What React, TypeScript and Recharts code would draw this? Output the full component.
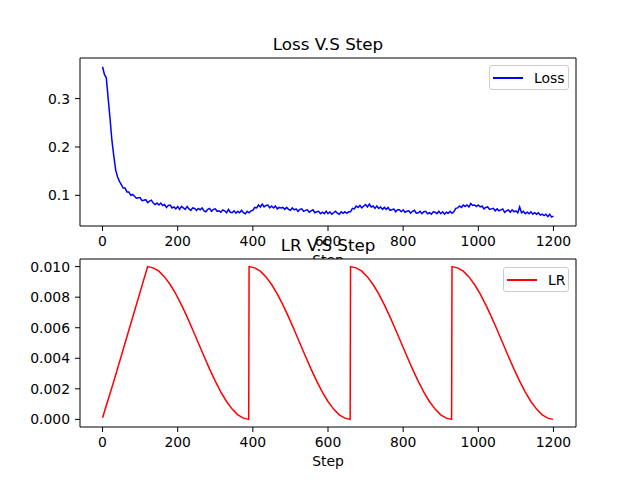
import React from 'react'
import { LineChart, Line, XAxis, YAxis, Legend, CartesianGrid, ReferenceLine } from 'recharts'

// loss logged every 5 steps
const LOSS_EVERY = 5
const lossValues = [
  0.366, 0.350, 0.343, 0.300, 0.258, 0.213, 0.181, 0.152, 0.138, 0.129,
  0.122, 0.115, 0.115, 0.107, 0.107, 0.100, 0.102, 0.098, 0.094, 0.095,
  0.095, 0.089, 0.090, 0.091, 0.085, 0.088, 0.090, 0.084, 0.081, 0.084,
  0.080, 0.084, 0.079, 0.081, 0.075, 0.079, 0.080, 0.074, 0.076, 0.072,
  0.077, 0.071, 0.077, 0.074, 0.071, 0.077, 0.072, 0.069, 0.074, 0.073,
  0.069, 0.073, 0.070, 0.074, 0.068, 0.066, 0.071, 0.073, 0.067, 0.071,
  0.072, 0.067, 0.068, 0.065, 0.070, 0.068, 0.064, 0.071, 0.065, 0.064,
  0.068, 0.063, 0.067, 0.064, 0.069, 0.064, 0.062, 0.067, 0.064, 0.068,
  0.069, 0.075, 0.074, 0.080, 0.076, 0.082, 0.076, 0.079, 0.080, 0.074,
  0.078, 0.074, 0.078, 0.072, 0.075, 0.074, 0.075, 0.071, 0.075, 0.071,
  0.069, 0.074, 0.070, 0.072, 0.067, 0.071, 0.072, 0.067, 0.069, 0.070,
  0.065, 0.068, 0.070, 0.064, 0.066, 0.067, 0.062, 0.065, 0.062, 0.067,
  0.062, 0.066, 0.061, 0.064, 0.067, 0.063, 0.061, 0.066, 0.063, 0.066,
  0.063, 0.066, 0.066, 0.073, 0.072, 0.078, 0.075, 0.079, 0.074, 0.078,
  0.081, 0.076, 0.082, 0.076, 0.078, 0.073, 0.078, 0.073, 0.076, 0.071,
  0.075, 0.071, 0.075, 0.069, 0.070, 0.072, 0.066, 0.070, 0.070, 0.066,
  0.070, 0.065, 0.067, 0.068, 0.063, 0.067, 0.069, 0.063, 0.064, 0.067,
  0.062, 0.066, 0.067, 0.062, 0.064, 0.061, 0.066, 0.065, 0.062, 0.067,
  0.062, 0.066, 0.061, 0.065, 0.063, 0.067, 0.063, 0.066, 0.073, 0.074,
  0.078, 0.075, 0.080, 0.077, 0.080, 0.076, 0.083, 0.079, 0.080, 0.077,
  0.080, 0.076, 0.078, 0.072, 0.075, 0.076, 0.071, 0.072, 0.073, 0.068,
  0.072, 0.068, 0.070, 0.072, 0.065, 0.068, 0.070, 0.065, 0.070, 0.066,
  0.068, 0.064, 0.076, 0.064, 0.067, 0.062, 0.065, 0.062, 0.066, 0.061,
  0.064, 0.061, 0.064, 0.059, 0.061, 0.058, 0.061, 0.056, 0.061, 0.055,
  0.057,
]

const lrSteps = [
  0, 30, 60, 90, 120,
  135, 150, 165, 180, 195, 210, 225, 240, 255, 270, 285, 300, 315, 330, 345, 360, 375, 389,
  390, 405, 420, 435, 450, 465, 480, 495, 510, 525, 540, 555, 570, 585, 600, 615, 630, 645, 659,
  660, 675, 690, 705, 720, 735, 750, 765, 780, 795, 810, 825, 840, 855, 870, 885, 900, 915, 929,
  930, 945, 960, 975, 990, 1005, 1020, 1035, 1050, 1065, 1080, 1095, 1110, 1125, 1140, 1155, 1170, 1185, 1199,
]
const lrValues = [
  0.0001, 0.0025, 0.005, 0.0075, 0.01,
  0.00992, 0.0097, 0.00933, 0.00883, 0.00821, 0.0075, 0.00671, 0.00587, 0.005, 0.00413, 0.00329, 0.0025, 0.00179, 0.00117, 0.00067, 0.0003, 0.00008, 0,
  0.01, 0.00992, 0.0097, 0.00933, 0.00883, 0.00821, 0.0075, 0.00671, 0.00587, 0.005, 0.00413, 0.00329, 0.0025, 0.00179, 0.00117, 0.00067, 0.0003, 0.00008, 0,
  0.01, 0.00992, 0.0097, 0.00933, 0.00883, 0.00821, 0.0075, 0.00671, 0.00587, 0.005, 0.00413, 0.00329, 0.0025, 0.00179, 0.00117, 0.00067, 0.0003, 0.00008, 0,
  0.01, 0.00992, 0.0097, 0.00933, 0.00883, 0.00821, 0.0075, 0.00671, 0.00587, 0.005, 0.00413, 0.00329, 0.0025, 0.00179, 0.00117, 0.00067, 0.0003, 0.00008, 0,
]

const stepTicks = [0, 200, 400, 600, 800, 1000, 1200]
const lossTicks = [0.1, 0.2, 0.3]
const lrTicks = [0, 0.002, 0.004, 0.006, 0.008, 0.01]

const X_DOMAIN: [number, number] = [-60, 1260]
const LOSS_DOMAIN: [number, number] = [0.0366, 0.384]
const LR_DOMAIN: [number, number] = [-0.0005, 0.0105]

const lossData = lossValues.map((v, i) => ({ step: i * LOSS_EVERY, loss: v }))
const lrData = lrSteps.map((s, i) => ({ step: s, lr: lrValues[i] }))

const FONT = 13.9
const tickStyle = { fill: '#000', fontSize: FONT }

function LegendBox({ label, color, width }: { label: string; color: string; width: number }) {
  return (
    <div style={{
      boxSizing: 'border-box', width, height: 25, border: '1px solid #cccccc', borderRadius: 3,
      background: 'rgba(255,255,255,0.8)', display: 'flex', alignItems: 'center',
      paddingLeft: 3, fontSize: FONT, color: '#000',
    }}>
      <span style={{ display: 'inline-block', width: 30, height: 2, background: color, marginRight: 11 }} />
      <span>{label}</span>
    </div>
  )
}

export default function App() {
  return (
    <div style={{ position: 'absolute', left: 0, top: 0, width: 640, height: 480, background: '#fff', fontFamily: 'DejaVu Sans' }}>
      <div style={{ position: 'absolute', left: 0, top: 0 }}>
        <LineChart width={640} height={480} data={lossData} margin={{ top: 58, right: 64, bottom: 201, left: 0 }}>
          <XAxis dataKey="step" type="number" domain={X_DOMAIN} ticks={stepTicks} height={53}
            stroke="#000" tickSize={5} tickMargin={5} tick={tickStyle}
            label={{ value: 'Step', position: 'insideBottom', offset: 14, fill: '#000', fontSize: FONT }} />
          <YAxis type="number" domain={LOSS_DOMAIN} ticks={lossTicks} width={80}
            stroke="#000" tickSize={5} tickMargin={5} tick={tickStyle} tickFormatter={(v: number) => v.toFixed(1)} />
          <Legend layout="horizontal" verticalAlign="middle" align="center"
            wrapperStyle={{ position: 'absolute', left: 489, top: 65, width: 80, height: 25 }}
            content={() => <LegendBox label="Loss" color="#0000ff" width={80} />} />
          <Line type="linear" dataKey="loss" name="Loss" stroke="#0000ff" strokeWidth={1.5} dot={false} isAnimationActive={false} />
          <ReferenceLine y={LOSS_DOMAIN[1]} stroke="#000" ifOverflow="visible"
            label={{ value: 'Loss V.S Step', position: 'top', offset: 8, fill: '#000', fontSize: 16.7 }} />
          <ReferenceLine x={X_DOMAIN[1]} stroke="#000" ifOverflow="visible" />
        </LineChart>
      </div>
      <div style={{ position: 'absolute', left: 0, top: 0 }}>
        <LineChart width={640} height={480} data={lrData} margin={{ top: 259, right: 64, bottom: 0, left: 0 }}>
          <CartesianGrid horizontal={false} vertical={false} fill="#fff" fillOpacity={1} />
          <XAxis dataKey="step" type="number" domain={X_DOMAIN} ticks={stepTicks} height={53}
            stroke="#000" tickSize={5} tickMargin={5} tick={tickStyle}
            label={{ value: 'Step', position: 'insideBottom', offset: 14, fill: '#000', fontSize: FONT }} />
          <YAxis type="number" domain={LR_DOMAIN} ticks={lrTicks} width={80}
            stroke="#000" tickSize={5} tickMargin={5} tick={tickStyle} tickFormatter={(v: number) => v.toFixed(3)} />
          <Legend layout="horizontal" verticalAlign="middle" align="center"
            wrapperStyle={{ position: 'absolute', left: 503, top: 267, width: 66, height: 25 }}
            content={() => <LegendBox label="LR" color="#ff0000" width={66} />} />
          <Line type="linear" dataKey="lr" name="LR" stroke="#ff0000" strokeWidth={1.5} dot={false} isAnimationActive={false} />
          <ReferenceLine y={LR_DOMAIN[1]} stroke="#000" ifOverflow="visible"
            label={{ value: 'LR V.S Step', position: 'top', offset: 8, fill: '#000', fontSize: 16.7 }} />
          <ReferenceLine x={X_DOMAIN[1]} stroke="#000" ifOverflow="visible" />
        </LineChart>
      </div>
    </div>
  )
}
